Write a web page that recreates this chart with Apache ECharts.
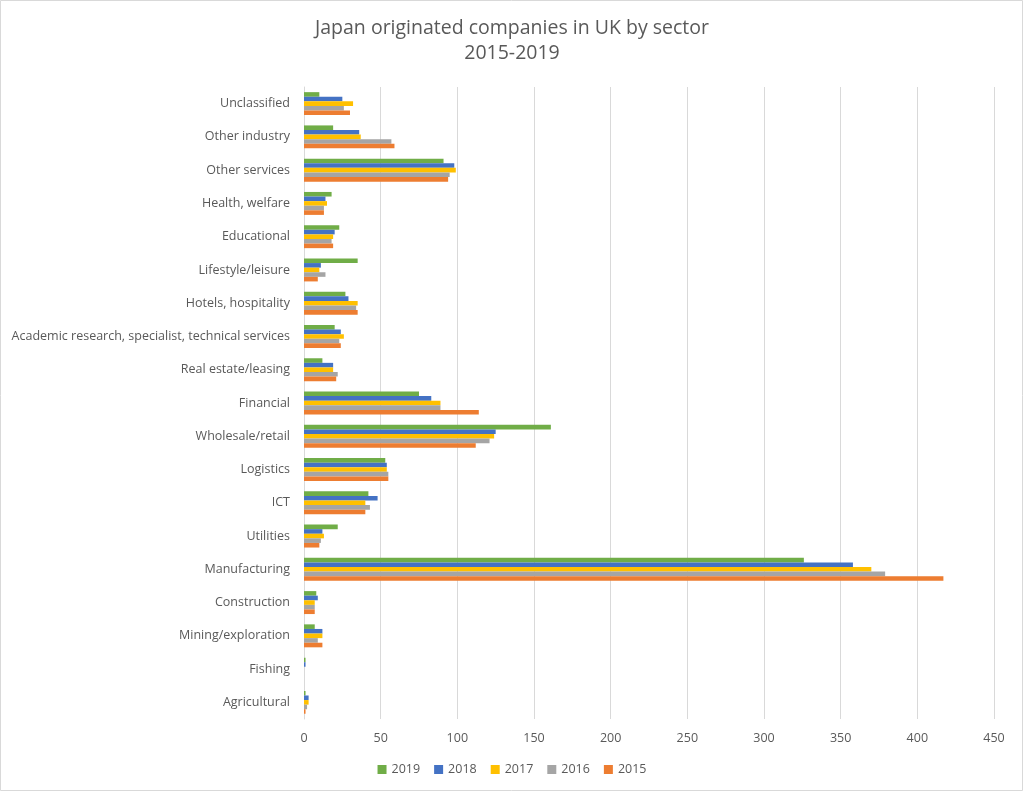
<!DOCTYPE html>
<html>
<head>
<meta charset="utf-8">
<script src="https://cdn.jsdelivr.net/npm/echarts@6/dist/echarts.min.js"></script>
<style>
html, body { margin: 0; padding: 0; background: #fff; }
#chart { width: 1024px; height: 793px; }
</style>
</head>
<body>
<div id="chart"></div>
<script>
// sectors, bottom to top as drawn on the axis
var sectors = ['Agricultural', 'Fishing', 'Mining/exploration', 'Construction', 'Manufacturing',
    'Utilities', 'ICT', 'Logistics', 'Wholesale/retail', 'Financial', 'Real estate/leasing',
    'Academic research, specialist, technical services', 'Hotels, hospitality', 'Lifestyle/leisure',
    'Educational', 'Health, welfare', 'Other services', 'Other industry', 'Unclassified'];

var years = ['2019', '2018', '2017', '2016', '2015'];
var colors = ['#70AD47', '#4472C4', '#FFC000', '#A5A5A5', '#ED7D31'];

var v2019 = [1, 1, 7, 8, 326, 22, 42, 53, 161, 75, 12, 20, 27, 35, 23, 18, 91, 19, 10];
var v2018 = [3, 1, 12, 9, 358, 12, 48, 54, 125, 83, 19, 24, 29, 11, 20, 14, 98, 36, 25];
var v2017 = [3, 0, 12, 7, 370, 13, 40, 54, 124, 89, 19, 26, 35, 10, 19, 15, 99, 37, 32];
var v2016 = [2, 0, 9, 7, 379, 11, 43, 55, 121, 89, 22, 23, 34, 14, 18, 13, 95, 57, 26];
var v2015 = [1, 0, 12, 7, 417, 10, 40, 55, 112, 114, 21, 24, 35, 9, 19, 13, 94, 59, 30];
var values = [v2019, v2018, v2017, v2016, v2015];

var textColor = '#595959';
var font = '"Open Sans", "Noto Sans", sans-serif';

var chart = echarts.init(document.getElementById('chart'));

var series = [];
for (var i = 0; i < years.length; i++) {
    series.push({
        name: years[i],
        type: 'bar',
        data: values[i],
        barGap: '0%',
        barCategoryGap: '31%',
        itemStyle: { color: colors[i] }
    });
}

var option = {
    animation: false,
    backgroundColor: '#fff',
    textStyle: { fontFamily: font },
    title: {
        text: 'Japan originated companies in UK by sector\n2015-2019',
        left: 'center',
        top: 11,
        textStyle: {
            color: textColor,
            fontFamily: font,
            fontWeight: 'normal',
            fontSize: 19.5,
            lineHeight: 25
        }
    },
    legend: {
        data: years,
        bottom: 12,
        left: 'center',
        itemWidth: 9,
        itemHeight: 9,
        itemGap: 14,
        icon: 'rect',
        textStyle: { color: textColor, fontSize: 12.5, fontFamily: font }
    },
    grid: {
        left: 304,
        right: 30,
        top: 87,
        bottom: 74,
        containLabel: false
    },
    xAxis: {
        type: 'value',
        min: 0,
        max: 450,
        interval: 50,
        axisLine: { show: false },
        axisTick: { show: false },
        axisLabel: { color: textColor, fontSize: 12.5, margin: 13 },
        splitLine: { lineStyle: { color: '#D9D9D9', width: 1 } }
    },
    yAxis: {
        type: 'category',
        data: sectors,
        axisLine: { lineStyle: { color: '#D9D9D9' } },
        axisTick: { show: false },
        axisLabel: { color: textColor, fontSize: 12.5, margin: 14, interval: 0, padding: [3, 0, 0, 0] }
    },
    graphic: [{
        type: 'rect',
        shape: { x: 0.5, y: 0.5, width: 1022, height: 790 },
        style: { fill: 'none', stroke: '#D9D9D9', lineWidth: 1 },
        silent: true
    }],
    series: series
};

chart.setOption(option);
window.addEventListener('resize', function() {
    chart.resize();
});
</script>
</body>
</html>
